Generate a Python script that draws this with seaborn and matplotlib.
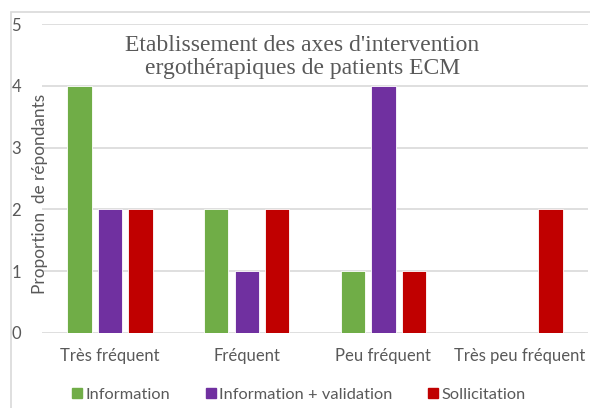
import pandas as pd
import matplotlib.pyplot as plt
import seaborn as sns
from matplotlib.patches import Rectangle

# === Data ===
categories = ["Très fréquent", "Fréquent", "Peu fréquent", "Très peu fréquent"]
series = ["Information", "Information + validation", "Sollicitation"]
information = [4, 2, 1, 0]
info_validation = [2, 1, 4, 0]
sollicitation = [2, 2, 1, 2]
colors = ["#70ad47", "#7030a0", "#c00000"]

df = pd.DataFrame({
    "Fréquence": categories * 3,
    "Type": [s for s in series for _ in categories],
    "Valeur": information + info_validation + sollicitation,
})

sns.set_style("white")
plt.rcParams["font.family"] = ["Lato", "DejaVu Sans"]

fig = plt.figure(figsize=(5.9, 4.08), dpi=100)
ax = fig.add_axes([0.071, 0.184, 0.926, 0.757])

# light frame around the chart (cropped on right/bottom like the source)
fig.patches.append(Rectangle((11 / 590, -0.05), 1.0, 1 - 12 / 408 + 0.05,
                             transform=fig.transFigure, fill=False,
                             edgecolor="#d9d9d9", linewidth=1.2))

sns.barplot(data=df, x="Fréquence", y="Valeur", hue="Type",
            palette=colors, saturation=1, width=0.67, gap=0.2,
            edgecolor="white", linewidth=0.6, ax=ax, legend=False)

ax.set_ylim(0, 5)
ax.set_xlim(-0.5, 3.5)
ax.set_yticks(range(6))
ax.yaxis.grid(True, color="#d9d9d9", linewidth=1.2)
ax.set_axisbelow(True)
for s in ax.spines.values():
    s.set_visible(False)
ax.tick_params(axis="both", length=0, labelsize=12, labelcolor="#595959")
ax.tick_params(axis="x", pad=11)
ax.tick_params(axis="y", pad=22)
for lbl in ax.get_yticklabels():
    lbl.set_horizontalalignment("left")
ax.set_xlabel("")
ax.set_ylabel("Proportion  de répondants", fontsize=12.4, color="#595959")
ax.yaxis.set_label_coords(0.011, 0.45)

fig.text(0.512, 0.86, "Etablissement des axes d'intervention\nergothérapiques de patients ECM",
         ha="center", va="center", fontsize=17, color="#595959",
         family=["Liberation Serif"], linespacing=1.1)

handles = [plt.Line2D([], [], marker="s", linestyle="", markersize=7.2,
                      markerfacecolor=c, markeredgecolor=c) for c in colors]
fig.legend(handles, series, loc="center", bbox_to_anchor=(0.504, 0.032), ncol=3,
           frameon=False, fontsize=11.8, labelcolor="#595959",
           handlelength=1.0, handletextpad=0.0, columnspacing=2.0)

fig.savefig("out.png", dpi=100)
